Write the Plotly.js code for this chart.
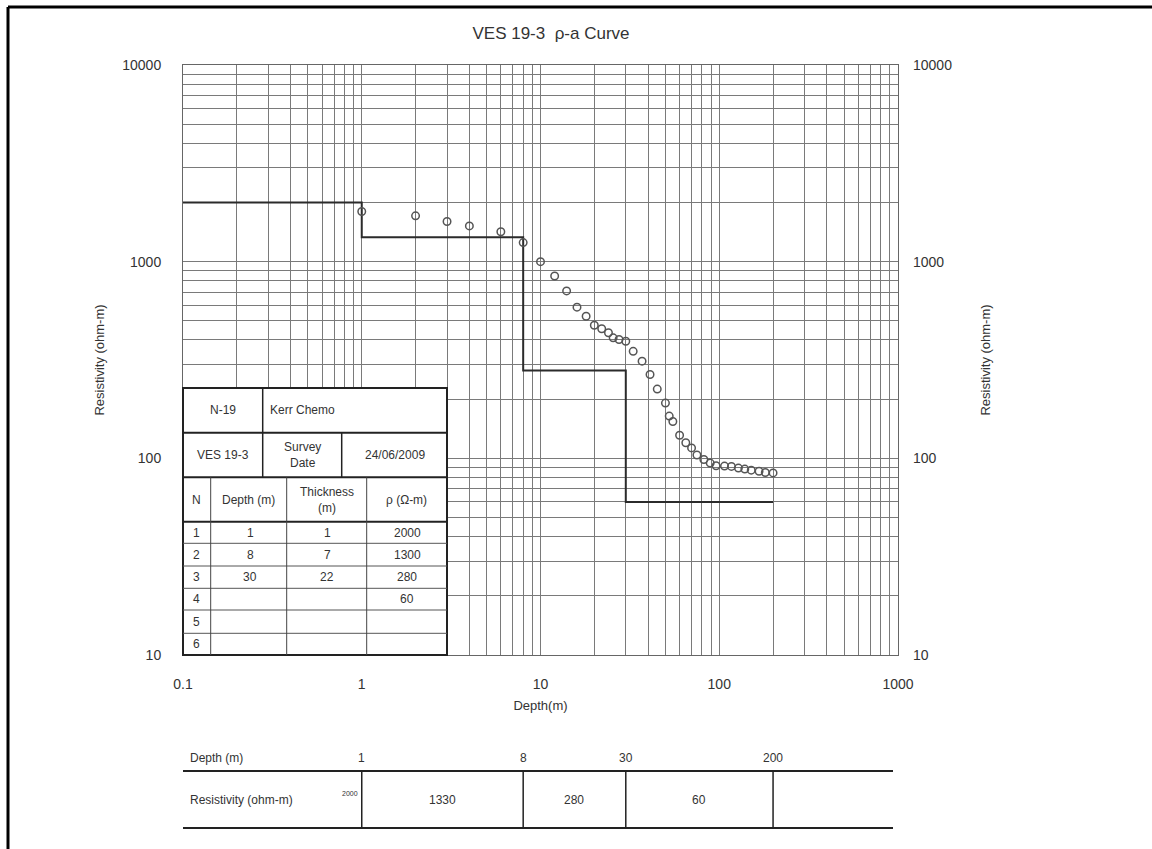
<!DOCTYPE html>
<html><head><meta charset="utf-8">
<script src="https://cdn.plot.ly/plotly-3.0.1.min.js"></script>
<style>body{margin:0;background:#fff}#chart{width:1152px;height:849px}</style>
</head><body><div id="chart"></div>
<script>
// ---- data ----
const depthAB = [1,2,3,4,6,8,10,12,14,16,18,20,22,24,25.5,27.5,30,33,37,41,45,50,52.5,55,60,65,70,75,82,89,96,107,117,128,139,151,167,181,200];
const rhoA    = [1800,1710,1600,1520,1420,1250,1000,845,710,587,528,475,456,435,410,402,394,350,312,267,225,191,164,154,131,120,113,104,98.7,94.6,91.7,91.3,91,89.2,88.2,87.1,86,84.7,84.3];

const modelDepth = [0.1, 1, 8, 30, 200];
const modelRho   = [2000, 1330, 280, 60, 60];

const siteId = 'N-19', siteName = 'Kerr Chemo', vesId = 'VES 19-3', surveyDate = '24/06/2009';
const layerN     = ['1','2','3','4','5','6'];
const layerDepth = ['1','8','30','','',''];
const layerThick = ['1','7','22','','',''];
const layerRho   = ['2000','1300','280','60','',''];

const boundDepth = [1, 8, 30, 200];
const boundLabel = ['1','8','30','200'];
const bandRho    = ['2000','1330','280','60'];

const xTickVals = [0.1, 1, 10, 100, 1000];
const xTickText = ['0.1','1','10','100','1000'];
const yTickVals = [10, 100, 1000, 10000];
const yTickText = ['10','100','1000','10000'];

// ---- geometry helpers ----
const L = 183, R = 898, T = 65, B = 655, W = 1152, H = 849;
const px = x => (x - L) / (R - L);
const py = y => (B - y) / (B - T);
const FONT = 'Liberation Sans, Arial, sans-serif';
const TXT = '#333';
const GRID = '#7a7a7a';

function gridVals(lo, hi) {
  const v = [], t = [];
  for (let d = lo; d < hi; d *= 10) {
    for (let k = 1; k <= 9; k++) { v.push(k * d); t.push(''); }
  }
  v.push(hi); t.push('');
  return [v, t];
}
const [xg, xgt] = gridVals(0.1, 1000);
const [yg, ygt] = gridVals(10, 10000);
xTickVals.forEach((val, i) => { const j = xg.findIndex(g => Math.abs(g / val - 1) < 1e-9); xgt[j] = xTickText[i]; });
yTickVals.forEach((val, i) => { const j = yg.findIndex(g => Math.abs(g / val - 1) < 1e-9); ygt[j] = yTickText[i]; });

const shapes = [];
const ann = [];
function hline(x0, x1, y, w, c) { shapes.push({type:'line', xref:'paper', yref:'paper', x0:px(x0), x1:px(x1), y0:py(y), y1:py(y), line:{color:c||'#222', width:w||1}, layer:'above'}); }
function vline(x, y0, y1, w, c) { shapes.push({type:'line', xref:'paper', yref:'paper', x0:px(x), x1:px(x), y0:py(y0), y1:py(y1), line:{color:c||'#222', width:w||1}, layer:'above'}); }
function text(t, x, y, opts) { ann.push(Object.assign({text:t, xref:'paper', yref:'paper', x:px(x), y:py(y), showarrow:false, xanchor:'center', yanchor:'middle', font:{family:FONT, size:12, color:TXT}}, opts||{})); }

// page border (top and left)
shapes.push({type:'line', xref:'paper', yref:'paper', x0:px(8), x1:px(W+5), y0:py(7), y1:py(7), line:{color:'#000', width:3}, layer:'above'});
shapes.push({type:'line', xref:'paper', yref:'paper', x0:px(8), x1:px(8), y0:py(7), y1:py(H+5), line:{color:'#000', width:3}, layer:'above'});

// ---- inner table ----
const tL = 183, tR = 447, tT = 388;
const rows = [388, 432.7, 477.3, 521.7, 543.3, 566, 588.3, 610, 633.3, 655];
shapes.push({type:'rect', xref:'paper', yref:'paper', x0:px(tL), x1:px(tR), y0:py(tT), y1:py(B), fillcolor:'#fff', line:{color:'#222', width:2}, layer:'above'});
rows.slice(1, 9).forEach((y, i) => hline(tL, tR, y, i < 3 ? 2 : 1, i < 3 ? '#222' : '#555'));
vline(262.7, rows[0], rows[2], 1.5);
vline(341.7, rows[1], rows[2], 1.5);
[210.7, 286.7, 366.7].forEach(x => vline(x, rows[2], rows[9], 1, '#444'));

text(siteId, 222.7, (rows[0]+rows[1])/2);
text(siteName, 268, (rows[0]+rows[1])/2, {xanchor:'left'});
text(vesId, 222.7, (rows[1]+rows[2])/2);
text('Survey<br>Date', 302, (rows[1]+rows[2])/2);
text(surveyDate, 394.5, (rows[1]+rows[2])/2);
text('N', 196.7, (rows[2]+rows[3])/2);
text('Depth (m)', 248.7, (rows[2]+rows[3])/2);
text('Thickness<br>(m)', 326.7, (rows[2]+rows[3])/2);
text('ρ (Ω-m)', 406.7, (rows[2]+rows[3])/2);
layerN.forEach((n, i) => {
  const yc = (rows[3+i] + rows[4+i]) / 2;
  text(n, 196.7, yc);
  if (layerDepth[i]) text(layerDepth[i], 250, yc);
  if (layerThick[i]) text(layerThick[i], 327, yc);
  if (layerRho[i]) text(layerRho[i], 407, yc);
});

// ---- bottom table ----
text('Depth (m)', 188, 758, {xanchor:'left'});
text('Resistivity (ohm-m)', 188, 800, {xanchor:'left'});
hline(183, 893, 771, 2, '#222');
hline(183, 893, 828, 2, '#222');
boundDepth.forEach((d, i) => {
  shapes.push({type:'line', xref:'x', yref:'paper', x0:d, x1:d, y0:py(771), y1:py(828), line:{color:'#222', width:1.5}, layer:'above'});
  ann.push({text:boundLabel[i], xref:'x', yref:'paper', x:Math.log10(d), y:py(758), showarrow:false, xanchor:'center', yanchor:'middle', font:{family:FONT, size:12, color:TXT}});
});
ann.push({text:bandRho[0], xref:'x', yref:'paper', x:Math.log10(boundDepth[0]), xshift:-2, y:py(793), showarrow:false, xanchor:'right', yanchor:'middle', font:{family:FONT, size:7, color:TXT}});
for (let i = 0; i < boundDepth.length - 1; i++) {
  const mid = Math.sqrt(boundDepth[i] * boundDepth[i+1]);
  ann.push({text:bandRho[i+1], xref:'x', yref:'paper', x:Math.log10(mid), y:py(800), showarrow:false, xanchor:'center', yanchor:'middle', font:{family:FONT, size:12, color:TXT}});
}

const traces = [
  {x:modelDepth, y:modelRho, type:'scatter', mode:'lines', line:{shape:'hv', color:'#2b2b2b', width:2}, hoverinfo:'skip'},
  {x:depthAB, y:rhoA, type:'scatter', mode:'markers', marker:{symbol:'circle-open', size:7.5, color:'#555', line:{width:1.5}}},
  {x:modelDepth, y:modelRho, yaxis:'y2', type:'scatter', mode:'lines', line:{width:0}, opacity:0, hoverinfo:'skip'}
];

const axFont = {family:FONT, size:14, color:TXT};
const layout = {
  width:W, height:H, showlegend:false,
  paper_bgcolor:'#fff', plot_bgcolor:'#fff',
  margin:{l:L, r:W-R, t:T, b:H-B, pad:0},
  title:{text:'VES 19-3  ρ-a Curve', x:551/W, xref:'container', xanchor:'center', y:1-33/H, yref:'container', yanchor:'middle', font:{family:FONT, size:17, color:TXT}},
  xaxis:{type:'log', range:[-1,3], tickmode:'array', tickvals:xg, ticktext:xgt, ticks:'', showgrid:true, gridcolor:GRID, gridwidth:1,
         showline:true, linecolor:'#666', mirror:true, zeroline:false, tickfont:axFont, ticklabelstandoff:16,
         title:{text:'Depth(m)', font:{family:FONT, size:13, color:TXT}, standoff:10}, automargin:false},
  yaxis:{type:'log', range:[1,4], tickmode:'array', tickvals:yg, ticktext:ygt, ticks:'', showgrid:true, gridcolor:GRID, gridwidth:1,
         showline:true, linecolor:'#666', mirror:true, zeroline:false, tickfont:axFont, ticklabelstandoff:18,
         title:{text:'Resistivity (ohm-m)', font:{family:FONT, size:13, color:TXT}, standoff:14}, automargin:false},
  yaxis2:{type:'log', range:[1,4], overlaying:'y', side:'right', tickmode:'array', tickvals:yTickVals, ticktext:yTickText, ticks:'',
          showgrid:false, zeroline:false, showline:false, tickfont:axFont, ticklabelstandoff:14,
          title:{text:'Resistivity (ohm-m)', font:{family:FONT, size:13, color:TXT}, standoff:29}, automargin:false},
  shapes:shapes, annotations:ann
};
Plotly.newPlot('chart', traces, layout, {displayModeBar:false, staticPlot:true});
</script></body></html>
